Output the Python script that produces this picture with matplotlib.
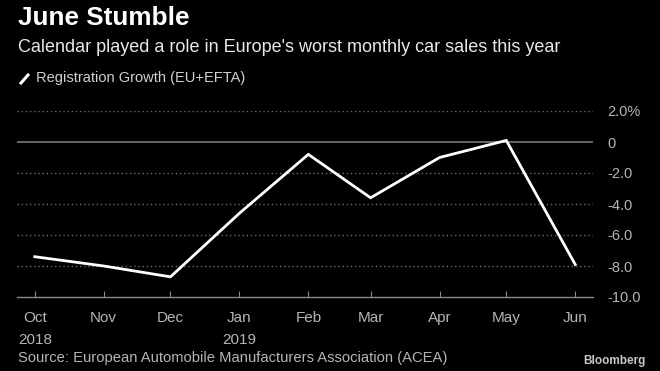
import numpy as np
import pandas as pd
import matplotlib
matplotlib.use("Agg")
import matplotlib.pyplot as plt
from matplotlib.lines import Line2D

# --- data ---
months = ["2018-10-01", "2018-11-01", "2018-12-01", "2019-01-01", "2019-02-01",
          "2019-03-01", "2019-04-01", "2019-05-01", "2019-06-01"]
growth = [-7.4, -8.0, -8.7, -4.6, -0.8, -3.6, -1.0, 0.1, -7.9]
tick_labels = ["Oct\n2018", "Nov", "Dec", "Jan\n2019", "Feb", "Mar", "Apr", "May", "Jun"]
y_ticks = [2, 0, -2, -4, -6, -8, -10]
y_tick_labels = ["2.0%", "0", "-2.0", "-4.0", "-6.0", "-8.0", "-10.0"]

title = "June Stumble"
subtitle = "Calendar played a role in Europe's worst monthly car sales this year"
legend_label = "Registration Growth (EU+EFTA)"
source = "Source: European Automobile Manufacturers Association (ACEA)"

plt.rcParams['font.family'] = ['Liberation Sans', 'DejaVu Sans']

dates = pd.to_datetime(months)

fig = plt.figure(figsize=(6.6, 3.71), dpi=100, facecolor='black')
# axes spans x 17..593 px, y 111..297 px
ax = fig.add_axes([17 / 660, 1 - 297 / 371, (593 - 17) / 660, (297 - 111) / 371])
ax.set_facecolor('black')

ax.plot(dates, growth, color='white', linewidth=2.0, solid_joinstyle='miter', zorder=3)

ax.set_xlim(pd.Timestamp("2018-09-23"), pd.Timestamp("2019-06-09"))
ax.set_ylim(-10, 2)

# grid
for v in y_ticks:
    if v == 0:
        ax.axhline(v, color='#7a7a7a', linewidth=1.2, zorder=1)
    elif v != -10:
        ax.axhline(v, color='#6a6a6a', linewidth=1.0, linestyle=(0, (1, 2)), zorder=1)

for s in ['top', 'left', 'right']:
    ax.spines[s].set_visible(False)
ax.spines['bottom'].set_color('#8a8a8a')
ax.spines['bottom'].set_linewidth(1.0)

ax.set_xticks(dates)
ax.set_xticklabels(tick_labels, ha='center', va='top', linespacing=1.75)
ax.tick_params(axis='x', direction='in', length=4, color='#8a8a8a',
               labelsize=11, pad=10)
for lbl in ax.get_xticklabels():
    lbl.set_color('#b5b5b5')

ax.yaxis.tick_right()
ax.set_yticks(y_ticks)
ax.set_yticklabels(y_tick_labels)
ax.tick_params(axis='y', length=0, labelsize=10.5, pad=10)
for lbl in ax.get_yticklabels():
    lbl.set_color('#b5b5b5')
    lbl.set_ha('left')

# header
fig.text(18 / 660, 1 - 18 / 371, title, color='white', fontsize=18.8, fontweight='bold',
         va='center', ha='left')
fig.text(18 / 660, 1 - 48 / 371, subtitle, color='#e8e8e8', fontsize=13,
         va='center', ha='left')
fig.add_artist(Line2D([21 / 660, 28 / 660], [1 - 83 / 371, 1 - 75 / 371],
                      color='white', linewidth=2.2, transform=fig.transFigure))
fig.text(36 / 660, 1 - 78 / 371, legend_label, color='#d0d0d0', fontsize=10.5,
         va='center', ha='left')

# footer
fig.text(18 / 660, 1 - 358 / 371, source, color='#b5b5b5', fontsize=10.6,
         va='center', ha='left')
fig.text(646 / 660, 1 - 361 / 371, "Bloomberg", color='#c8c8c8', fontsize=8.5,
         fontweight='bold', va='center', ha='right')

fig.savefig("out.png", dpi=100, facecolor='black')
